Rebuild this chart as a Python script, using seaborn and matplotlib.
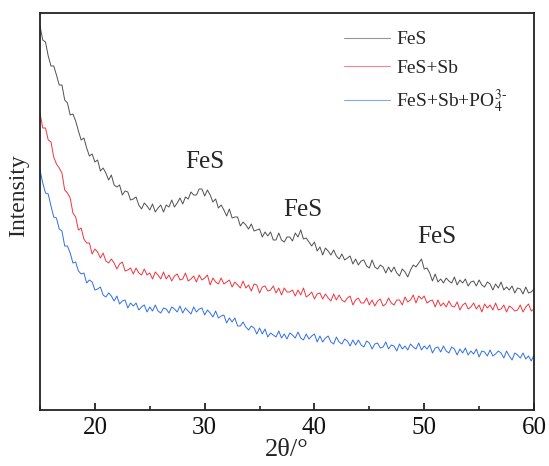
import numpy as np
import pandas as pd
import matplotlib
matplotlib.use("Agg")
import matplotlib.pyplot as plt
import seaborn as sns
from matplotlib.ticker import MultipleLocator
from matplotlib.lines import Line2D

# 2theta sampling grid (degrees), step 0.25
two_theta = np.arange(15.0, 60.0 + 0.001, 0.25)

# Intensity (arbitrary units)
fes = [384, 370, 368, 354, 344, 344, 335, 325, 325, 310,
       307, 295, 296, 289, 279, 270, 272, 262, 254, 256,
       248, 250, 239, 242, 237, 230, 235, 225, 223, 225,
       215, 219, 218, 210, 211, 213, 205, 201, 207, 204,
       200, 206, 198, 202, 205, 198, 205, 203, 210, 203,
       207, 212, 206, 213, 211, 218, 215, 215, 221, 221,
       214, 220, 215, 208, 211, 202, 205, 200, 194, 201,
       192, 193, 193, 184, 188, 185, 181, 186, 179, 180,
       181, 173, 178, 174, 178, 170, 170, 177, 170, 168,
       173, 173, 169, 177, 173, 180, 171, 172, 168, 164,
       168, 159, 163, 155, 162, 159, 155, 160, 154, 151,
       156, 150, 152, 154, 146, 151, 145, 149, 150, 144,
       142, 150, 143, 141, 145, 143, 137, 143, 138, 143,
       137, 134, 141, 138, 133, 140, 145, 143, 147, 151,
       141, 142, 137, 129, 136, 128, 131, 127, 132, 129,
       127, 133, 125, 130, 127, 131, 124, 128, 129, 124,
       130, 125, 123, 128, 126, 120, 126, 122, 128, 120,
       123, 120, 124, 117, 122, 121, 116, 123, 117, 118,
       121]

fes_sb = [297, 282, 282, 270, 268, 253, 246, 242, 237, 220,
          217, 212, 197, 193, 180, 182, 171, 167, 167, 156,
          161, 158, 152, 157, 149, 147, 151, 147, 141, 146,
          148, 139, 140, 142, 136, 142, 137, 135, 141, 135,
          137, 131, 138, 135, 131, 138, 131, 135, 129, 134,
          136, 130, 131, 137, 129, 131, 134, 128, 135, 130,
          132, 135, 125, 132, 128, 126, 132, 126, 128, 130,
          123, 128, 125, 122, 129, 122, 125, 119, 126, 125,
          117, 123, 124, 119, 120, 124, 117, 122, 115, 122,
          118, 118, 120, 114, 120, 115, 122, 113, 115, 118,
          111, 116, 117, 111, 116, 112, 109, 116, 110, 115,
          110, 108, 112, 114, 105, 110, 112, 107, 107, 112,
          105, 110, 104, 109, 111, 104, 106, 112, 107, 105,
          110, 110, 105, 113, 108, 110, 115, 107, 114, 111,
          114, 107, 109, 110, 103, 110, 104, 107, 103, 109,
          104, 103, 108, 100, 105, 107, 101, 103, 107, 101,
          105, 98, 106, 102, 105, 100, 107, 100, 101, 105,
          98, 104, 102, 99, 100, 105, 98, 103, 106, 99,
          101]

fes_sb_po4 = [240, 227, 217, 216, 204, 193, 192, 181, 179, 164,
              164, 157, 147, 148, 139, 136, 137, 127, 130, 128,
              120, 121, 123, 115, 113, 117, 114, 109, 114, 106,
              109, 110, 102, 107, 104, 107, 100, 103, 105, 98,
              103, 99, 105, 99, 97, 102, 101, 97, 103, 101,
              98, 104, 97, 102, 99, 96, 103, 98, 101, 102,
              95, 100, 97, 93, 99, 92, 94, 95, 87, 92,
              88, 92, 84, 84, 88, 83, 80, 84, 82, 76,
              82, 76, 81, 73, 77, 75, 73, 79, 72, 76,
              71, 77, 75, 72, 78, 72, 70, 76, 71, 74,
              76, 68, 74, 68, 72, 74, 68, 66, 73, 68,
              66, 71, 69, 64, 70, 65, 70, 65, 63, 69,
              67, 61, 66, 67, 62, 63, 68, 61, 65, 64,
              59, 66, 61, 64, 60, 66, 63, 61, 67, 60,
              64, 61, 65, 57, 62, 63, 58, 64, 59, 57,
              63, 61, 55, 61, 57, 62, 55, 59, 56, 61,
              53, 59, 58, 54, 60, 54, 56, 59, 57, 52,
              59, 54, 50, 57, 55, 52, 57, 51, 54, 49,
              55]

series_names = ["FeS", "FeS+Sb", r"FeS+Sb+PO$_4^{3\text{-}}$"]
series_colors = ["#505050", "#f2343e", "#2f6fe4"]
peak_labels = ["FeS", "FeS", "FeS"]
peak_pos = [(30.0, 248), (38.9, 200), (51.1, 173)]
x_ticks = [20, 30, 40, 50, 60]

df = pd.DataFrame({
    "2theta": np.concatenate([two_theta] * 3),
    "Intensity": np.concatenate([fes, fes_sb, fes_sb_po4]),
    "Sample": np.repeat(series_names, len(two_theta)),
})

sns.set_style("ticks")
plt.rcParams["font.family"] = ["Liberation Serif", "DejaVu Serif"]
plt.rcParams["mathtext.fontset"] = "stix"

fig = plt.figure(figsize=(5.49, 4.66), dpi=100)
ax = fig.add_axes([40 / 549, 1 - 410 / 466, 494 / 549, 397 / 466])

sns.lineplot(data=df, x="2theta", y="Intensity", hue="Sample",
             palette=dict(zip(series_names, series_colors)),
             linewidth=0.7, ax=ax, legend=False, estimator=None, sort=False)

ax.set_xlim(15, 60)
ax.set_ylim(0, 397)
ax.set_xticks(x_ticks)
ax.xaxis.set_minor_locator(MultipleLocator(5))
ax.set_yticks([])
ax.tick_params(axis="x", which="major", direction="in", length=5, width=1.2,
               labelsize=18, pad=5, colors="#111111")
ax.tick_params(axis="x", which="minor", direction="in", length=3, width=1.2)
for s in ax.spines.values():
    s.set_linewidth(1.3)
    s.set_color("#222222")

ax.set_xlabel("2θ/°", fontsize=19, labelpad=0)
ax.set_ylabel("Intensity", fontsize=17)
ax.yaxis.set_label_coords(-0.022, 0.54)

for lab, (px, py) in zip(peak_labels, peak_pos):
    ax.text(px, py, lab, fontsize=18, ha="center", va="center")

handles = [Line2D([], [], color=c, linewidth=0.8, alpha=0.6) for c in series_colors]
ax.legend(handles, series_names, loc="upper left",
          bbox_to_anchor=(0.615, 0.955), frameon=False, fontsize=14,
          handlelength=2.4, handletextpad=0.3, labelspacing=0.55,
          borderpad=0, borderaxespad=0)

fig.savefig("out.png", dpi=100)
